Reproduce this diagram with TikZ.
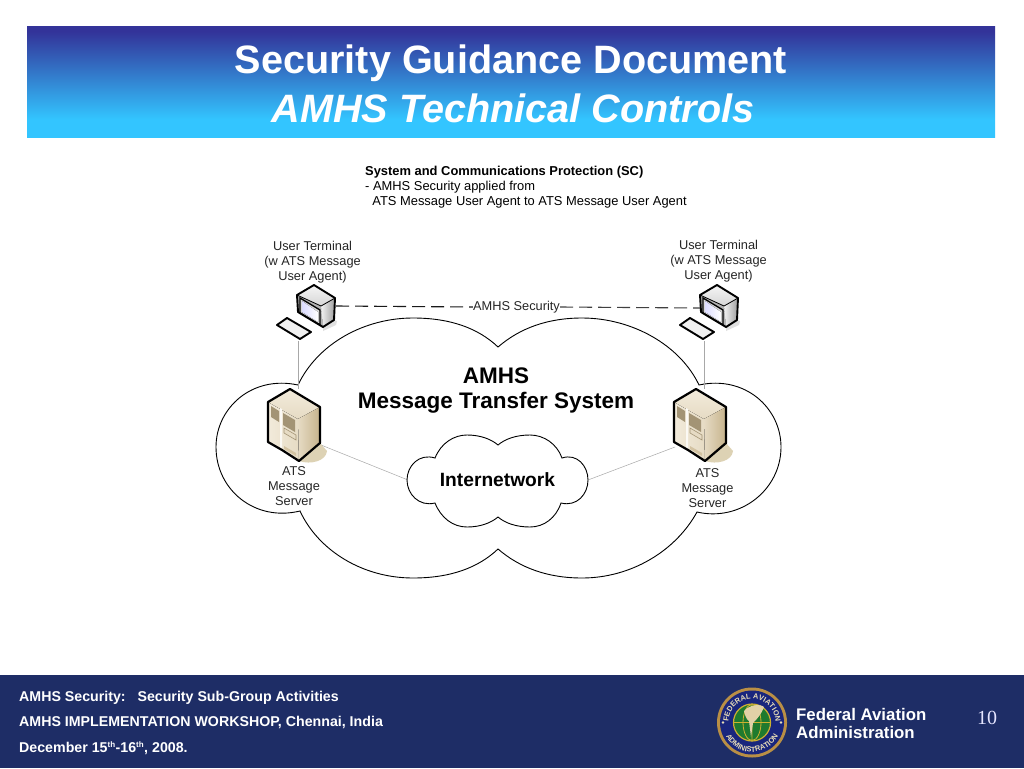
\documentclass[tikz,border=0pt]{standalone}
\usepackage{fontspec}
\setmainfont{Liberation Sans}
\newfontfamily\serifnum{Liberation Serif}
\usetikzlibrary{decorations.text}
\definecolor{navy}{HTML}{1E2D66}
\definecolor{hdtop}{HTML}{333399}
\definecolor{hdbot}{HTML}{33C5FF}
\definecolor{linkgray}{HTML}{A8A8A8}
\definecolor{beigeL}{HTML}{F2EBDB}
\definecolor{beigeM}{HTML}{E6DBC4}
\definecolor{beigeD}{HTML}{C6B38C}
\definecolor{ventc}{HTML}{A39475}
\definecolor{shadowc}{HTML}{DDD2B4}
\definecolor{gold}{HTML}{B98F45}
\definecolor{seallt}{HTML}{E8DDB8}
\definecolor{globe}{HTML}{1F7A2E}
\pgfdeclareverticalshading{hdrshade}{100bp}{color(0bp)=(hdbot); color(33bp)=(hdbot); color(73bp)=(hdtop); color(100bp)=(hdtop)}
\tikzset{
  lbl/.style={font=\fontsize{12.8}{15}\selectfont, align=center, inner sep=0pt, text=black!85},
  big/.style={font=\bfseries\fontsize{22.5}{25}\selectfont, align=center, inner sep=0pt},
  foot/.style={font=\bfseries\fontsize{14.2}{15}\selectfont, text=white, anchor=west, inner sep=0pt},
  ttl/.style={font=\bfseries\fontsize{39.6}{42}\selectfont, text=white, inner sep=0pt},
  cloudline/.style={draw=black, line width=0.9pt, fill=white},
  link/.style={draw=linkgray, line width=0.7pt},
  heavy/.style={line width=1.9pt, draw=black, line join=round},
  pics/terminal/.style={code={
    \fill[black!12] (36,35) -- (39,36) -- (38,40) -- (25,46) -- (25,42) -- cycle;
    % side and top faces
    \fill[left color=black!5, right color=black!38] (23,21) -- (37,13) -- (36,35) -- (25,42) -- cycle;
    \fill[top color=black!4, bottom color=black!16] (-1,10) -- (16,0) -- (37,13) -- (23,21) -- cycle;
    % front bezel
    \fill[black!30] (-1,10) -- (23,21) -- (25,42) -- (0,27) -- cycle;
    \draw[line width=1.3pt, black, fill=black!15] (2,13) -- (22,25) -- (22,40) -- (2,28) -- cycle;
    \fill[left color=blue!14, right color=white] (4,16) -- (20,27) -- (20,37) -- (4,27) -- cycle;
    \draw[heavy] (-1,10) -- (16,0) -- (37,13) -- (36,35) -- (25,42) -- (0,27) -- cycle;
    \draw[line width=.8pt, black] (-1,10) -- (23,21) -- (37,13);
    % keyboard
    \draw[heavy, fill=black!6] (-21,40) -- (-11,33) -- (13,47) -- (2,54) -- cycle;
  }},
  pics/serverbox/.style={code={
    \fill[shadowc] (30,72) -- (51,54) -- (58,62) .. controls (57,72) and (42,76) .. (30,72) -- cycle;
    \fill[left color=beigeL, right color=beigeM] (-1,13) -- (29,30) -- (30,72) -- (13,61) -- (-1,53) -- cycle;
    \fill[top color=beigeL, bottom color=beigeM] (-1,13) -- (21,0) -- (51,18) -- (29,30) -- cycle;
    \fill[left color=beigeM, right color=beigeD] (29,30) -- (51,18) -- (51,54) -- (30,72) -- cycle;
    \fill[ventc] (2,17) -- (10,22) -- (10,33) -- (2,28) -- cycle;
    \fill[ventc] (14,24) -- (26,31) -- (26,43) -- (14,36) -- cycle;
    \draw[ventc, fill=beigeM, line width=.6pt] (15,39) -- (27,46) -- (27,51) -- (15,44) -- cycle;
    \fill[beigeD!60!beigeM] (15,60) -- (27,67) -- (27,64) -- (15,57) -- cycle;
    \fill[white!70!beigeL] (11,19) -- (13,20) -- (13,61) -- (11,59) -- cycle;
    \draw[line width=2.2pt, black, line join=round] (-1,13) -- (21,0) -- (51,18) -- (51,54) -- (30,72) -- (13,61) -- (-1,53) -- cycle;
  }}
}
\begin{document}
\begin{tikzpicture}[x=1pt,y=-1pt]
\useasboundingbox (0,0) rectangle (1024,768);
\fill[white] (0,0) rectangle (1024,768);
% header
\shade[shading=hdrshade] (27,27) rectangle (995,137);
\node[ttl] (t1) at (511,63) {Security Guidance Document};
\node[ttl, font=\bfseries\itshape\fontsize{39.6}{42}\selectfont] (t2) at (513,108.5) {AMHS Technical Controls};
% note
\node[font=\fontsize{12.9}{14.6}\selectfont, align=left, anchor=north west, inner sep=0pt] (note) at (365,166.3)
 {\textbf{System and Communications Protection (SC)}\\- AMHS Security applied from\\\ \ ATS Message User Agent to ATS Message User Agent};
% big cloud
\draw[cloudline] (298,385)
 .. controls (318,343) and (365,318) .. (413,318)
 .. controls (450,318) and (478,328) .. (498,347)
 .. controls (520,328) and (548,318) .. (582,318)
 .. controls (632,318) and (680,345) .. (699,385)
 .. controls (745,375) and (781,408) .. (781,447)
 .. controls (781,490) and (740,522) .. (697,512)
 .. controls (675,552) and (630,578) .. (582,578)
 .. controls (548,578) and (520,568) .. (498,549)
 .. controls (478,568) and (450,578) .. (413,578)
 .. controls (362,578) and (318,550) .. (300,511)
 .. controls (255,522) and (216,490) .. (216,447)
 .. controls (216,408) and (252,375) .. (298,385) -- cycle;
% links
\coordinate (lkb) at (298,341);
\coordinate (lsv) at (298,389);
\coordinate (rkb) at (704,341);
\coordinate (rsv) at (704,389);
\coordinate (netl) at (408,480);
\coordinate (netr) at (588,480);
\coordinate (sl) at (321,445);
\coordinate (sr) at (675,447);
\draw[link] (lkb) -- (lsv);
\draw[link] (rkb) -- (rsv);
\draw[link, line width=.5pt] (sl) -- (netl);
\draw[link, line width=.5pt] (sr) -- (netr);
% inner cloud
\draw[cloudline] (435,458)
 .. controls (441,443) and (454,435) .. (467,435)
 .. controls (480,435) and (491,439) .. (498,445)
 .. controls (505,439) and (516,435) .. (530,435)
 .. controls (544,435) and (557,444) .. (562,458)
 .. controls (577,453) and (588,466) .. (588,480)
 .. controls (588,494) and (577,507) .. (561,503)
 .. controls (556,518) and (544,527) .. (530,527)
 .. controls (516,527) and (505,523) .. (498,517)
 .. controls (491,523) and (480,527) .. (467,527)
 .. controls (453,527) and (441,518) .. (435,503)
 .. controls (419,507) and (407,494) .. (407,480)
 .. controls (407,466) and (419,453) .. (435,458) -- cycle;
\node[big] (amhs) at (496,391) {AMHS\\Message Transfer System};
\node[big, font=\bfseries\fontsize{19.2}{22}\selectfont] (inet) at (497.5,480) {Internetwork};
% dashed
\coordinate (ta) at (336,306);
\coordinate (tb) at (700,308);
\node[lbl, fill=white] (sec) at (516.5,307) {AMHS Security};
\draw[line width=1.1pt, dash pattern=on 13pt off 6pt, black!90] (ta) -- (sec.west);
\draw[line width=1.1pt, dash pattern=on 13pt off 6pt, black!75] (sec.east) -- (tb);
% devices
\pic at (298,285) {terminal};
\pic at (701,285) {terminal};
\pic at (269,389) {serverbox};
\pic at (675,389) {serverbox};
\node[lbl] (ul) at (312.5,262) {User Terminal\\(w ATS Message\\User Agent)};
\node[lbl] (ur) at (718.5,261) {User Terminal\\(w ATS Message\\User Agent)};
\node[lbl] (sl1) at (294,486) {ATS\\Message\\Server};
\node[lbl] (sr1) at (707.5,488) {ATS\\Message\\Server};
% footer
\fill[navy] (0,675) rectangle (1024,768);
\node[foot] (f1) at (19,697.5) {AMHS Security:\ \ \ Security Sub-Group Activities};
\node[foot] (f2) at (19,722.5) {AMHS IMPLEMENTATION WORKSHOP, Chennai, India};
\node[foot] (f3) at (19,748) {December 15\textsuperscript{\fontsize{8}{8}\selectfont th}-16\textsuperscript{\fontsize{8}{8}\selectfont th}, 2008.};
\node[font=\bfseries\fontsize{16.8}{17.5}\selectfont, text=white, align=left, anchor=west, inner sep=0pt] (faa) at (796,723.5) {Federal Aviation\\Administration};
\node[font=\serifnum\fontsize{20}{22}\selectfont, text=white!90!blue, inner sep=0pt] (num) at (987,718) {10};
% seal
\coordinate (seal) at (752,722.5);
\fill[gold] (seal) circle (35);
\fill[navy!85!blue] (seal) circle (32);
\fill[globe] (seal) circle (18);
\draw[gold!70!yellow, line width=1.2pt] (seal) circle (18.5);
\draw[gold!70!yellow, line width=.8pt] (734,722.5) -- (770,722.5) (752,704) -- (752,741) (seal) ellipse (9 and 18);
\fill[seallt!85!gold] (744,711) .. controls (750,704) and (761,704) .. (764,707) .. controls (761,715) and (756,720) .. (753,723) -- (751,737) -- (749,721) .. controls (746,719) and (745,715) .. (744,711) -- cycle;
\fill[seallt] (723,722.5) circle (1.3) (781,722.5) circle (1.3);
\path[decorate, decoration={text along path, text align=center, text={|\bfseries\fontsize{7.4}{8}\selectfont\color{seallt}|FEDERAL AVIATION}}] ([shift={(172:23.5)}]seal) arc (172:368:23.5);
\path[decorate, decoration={text along path, text align=center, text={|\bfseries\fontsize{7.4}{8}\selectfont\color{seallt}|ADMINISTRATION}}] ([shift={(165:29.5)}]seal) arc (165:15:29.5);
\end{tikzpicture}
\end{document}
